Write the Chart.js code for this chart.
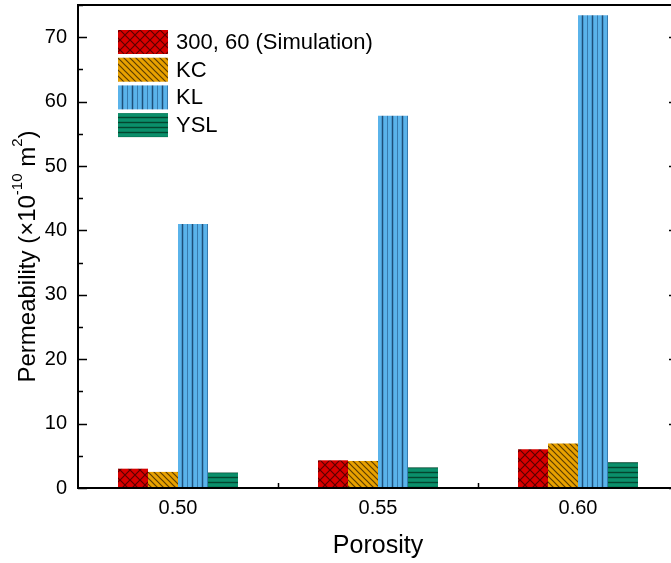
<!DOCTYPE html>
<html>
<head>
<meta charset="utf-8">
<script src="https://cdn.jsdelivr.net/npm/chart.js@4.4.0/dist/chart.umd.min.js"></script>
<style>
  html, body { margin: 0; padding: 0; background: #fff; overflow: hidden; }
  #wrap { width: 671px; height: 563px; overflow: hidden; }
</style>
</head>
<body>
<div id="wrap"><canvas id="chart" width="700" height="563"></canvas></div>
<script>
// --- DATA ---
const porosity = ["0.50", "0.55", "0.60"];
const simulation = [3.0, 4.3, 6.0];   // 300, 60 (Simulation)
const kc = [2.5, 4.2, 6.9];
const kl = [41.0, 57.8, 73.4];
const ysl = [2.4, 3.2, 4.0];
const yTicks = [0, 10, 20, 30, 40, 50, 60, 70];
const yMinorTicks = [5, 15, 25, 35, 45, 55, 65, 75];

const FONT = "'Liberation Sans', Arial, sans-serif";

// hatch patterns like origin's fill styles
function makePattern(bg, line, kind) {
  const size = { cross: 10, diag: 6, vert: 10, horiz: 5 }[kind];
  const c = document.createElement("canvas");
  c.width = size;
  c.height = size;
  const g = c.getContext("2d");
  g.fillStyle = bg;
  g.fillRect(0, 0, size, size);
  g.strokeStyle = line;
  g.beginPath();
  if (kind === "cross") {
    g.lineWidth = 1.2;
    g.moveTo(0, 0); g.lineTo(size, size);
    g.moveTo(size, 0); g.lineTo(0, size);
  } else if (kind === "diag") {
    g.lineWidth = 1.2;
    g.moveTo(0, 0); g.lineTo(size, size);
    g.moveTo(-1, size - 1); g.lineTo(1, size + 1);
    g.moveTo(size - 1, -1); g.lineTo(size + 1, 1);
  } else if (kind === "vert") {
    g.lineWidth = 1.5;
    g.moveTo(2.5, 0); g.lineTo(2.5, size);
    g.stroke();
    g.beginPath();
    g.strokeStyle = "rgba(40,100,150,0.7)";
    g.lineWidth = 1;
    g.moveTo(7.5, 0); g.lineTo(7.5, size);
  } else {
    g.lineWidth = 1.4;
    g.moveTo(0, 2.5); g.lineTo(size, 2.5);
  }
  g.stroke();
  return g.createPattern(c, "repeat");
}

const patRed = makePattern("#d80000", "#5a0000", "cross");
const patOrange = makePattern("#e8a100", "#5c3d00", "diag");
const patBlue = makePattern("#5ab3ea", "#1f4f78", "vert");
const patGreen = makePattern("#0b8f6b", "#04452f", "horiz");

// frame, inward ticks, legend, y title with superscripts
const decor = {
  id: "decor",
  afterDraw(chart) {
    const ctx = chart.ctx;
    const a = chart.chartArea;
    const y = chart.scales.y;
    const x = chart.scales.x;
    ctx.save();
    ctx.strokeStyle = "#000";
    ctx.lineWidth = 2;
    ctx.strokeRect(a.left, a.top, a.right - a.left, a.bottom - a.top);

    ctx.lineWidth = 1.5;
    ctx.beginPath();
    yTicks.forEach((v) => {
      const py = Math.round(y.getPixelForValue(v)) + 0.5;
      ctx.moveTo(a.left, py); ctx.lineTo(a.left + 9, py);
      ctx.moveTo(a.right, py); ctx.lineTo(a.right - 9, py);
    });
    yMinorTicks.forEach((v) => {
      const py = Math.round(y.getPixelForValue(v)) + 0.5;
      ctx.moveTo(a.left, py); ctx.lineTo(a.left + 5, py);
      ctx.moveTo(a.right, py); ctx.lineTo(a.right - 5, py);
    });
    // minor ticks between categories
    for (let i = 0; i < porosity.length - 1; i++) {
      const px = Math.round((x.getPixelForValue(i) + x.getPixelForValue(i + 1)) / 2) + 0.5;
      ctx.moveTo(px, a.bottom); ctx.lineTo(px, a.bottom - 5);
    }
    ctx.stroke();

    // legend
    ctx.font = "22px " + FONT;
    ctx.textBaseline = "middle";
    ctx.fillStyle = "#000";
    chart.data.datasets.forEach((ds, i) => {
      const bx = a.left + 40;
      const by = a.top + 25 + i * 27.7;
      ctx.fillStyle = ds.backgroundColor;
      ctx.fillRect(bx, by, 50, 24);
      ctx.fillStyle = "#000";
      ctx.fillText(ds.label, bx + 58, by + 13);
    });

    // x title
    ctx.textAlign = "center";
    ctx.font = "25px " + FONT;
    ctx.fillText("Porosity", (a.left + a.right) / 2, a.bottom + 58);

    // y title with superscripts
    ctx.translate(28, (a.top + a.bottom) / 2 + 10);
    ctx.rotate(-Math.PI / 2);
    const parts = [
      ["Permeability (\u00d710", false],
      ["-10", true],
      [" m", false],
      ["2", true],
      [")", false],
    ];
    const big = "24px " + FONT;
    const small = "15px " + FONT;
    let total = 0;
    parts.forEach((p) => {
      ctx.font = p[1] ? small : big;
      total += ctx.measureText(p[0]).width;
    });
    let cx = -total / 2;
    ctx.textAlign = "left";
    parts.forEach((p) => {
      ctx.font = p[1] ? small : big;
      ctx.fillText(p[0], cx, p[1] ? -10 : 0);
      cx += ctx.measureText(p[0]).width;
    });
    ctx.restore();
  },
};

new Chart(document.getElementById("chart"), {
  type: "bar",
  data: {
    labels: porosity,
    datasets: [
      { label: "300, 60 (Simulation)", data: simulation, backgroundColor: patRed },
      { label: "KC", data: kc, backgroundColor: patOrange },
      { label: "KL", data: kl, backgroundColor: patBlue },
      { label: "YSL", data: ysl, backgroundColor: patGreen },
    ],
  },
  options: {
    responsive: false,
    animation: false,
    layout: { padding: { top: 5, right: 22, left: 0, bottom: 0 } },
    datasets: { bar: { barPercentage: 1, categoryPercentage: 0.6, borderWidth: 0 } },
    plugins: { legend: { display: false }, tooltip: { enabled: false } },
    scales: {
      x: {
        grid: { display: false, drawTicks: false },
        border: { display: false },
        ticks: { color: "#000", padding: 8, font: { size: 20, family: FONT } },
        afterFit: (s) => { s.height = 75; },
      },
      y: {
        min: 0,
        max: 75,
        grid: { display: false, drawTicks: false },
        border: { display: false },
        ticks: {
          color: "#000",
          padding: 11,
          stepSize: 10,
          font: { size: 20, family: FONT },
          callback: (v) => (yTicks.includes(v) ? v : ""),
        },
        afterFit: (s) => {
          s.width = 78;
          s.paddingTop = 0;
          s.paddingBottom = 0;
        },
      },
    },
  },
  plugins: [decor],
});
</script>
</body>
</html>
